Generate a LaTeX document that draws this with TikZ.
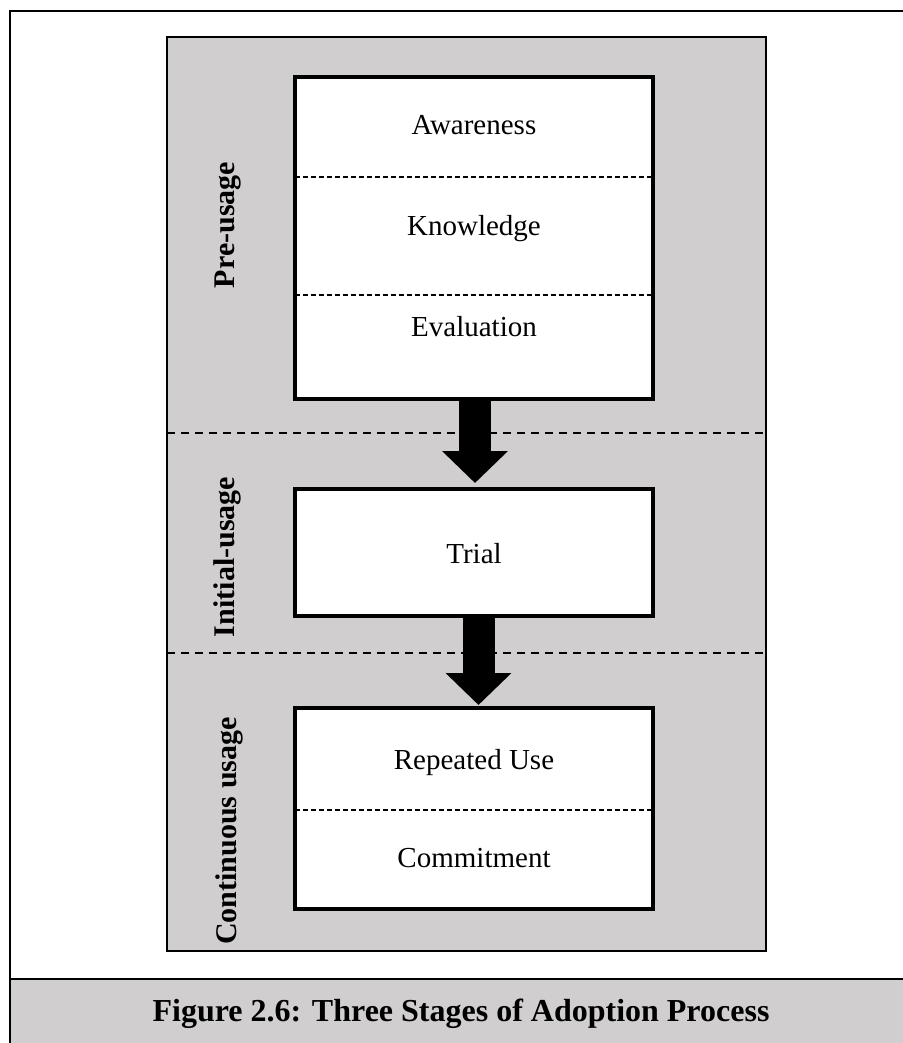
\documentclass[tikz,border=0pt]{standalone}
\usepackage{fontspec}
\setmainfont{Liberation Serif}
\usetikzlibrary{arrows.meta}
\definecolor{panelgray}{RGB}{208,206,207}
\begin{document}
\begin{tikzpicture}[x=1pt,y=-1pt,
  stagebox/.style={draw, line width=4pt, fill=white, minimum width=358pt,
    inner sep=0pt, outer sep=0pt},
  phase/.style={font=\fontsize{29}{34}\selectfont, anchor=base},
  sidelabel/.style={rotate=90, font=\fontsize{30}{36}\selectfont\bfseries},
  divider/.style={dash pattern=on 5pt off 3pt, line width=1.2pt},
  stageline/.style={dash pattern=on 8pt off 6pt, line width=2pt},
  flow/.style={line width=32pt, -{Triangle[length=32pt,width=64pt]}}]
\useasboundingbox (0,0) rectangle (902,1043);

% outer frame and caption band
\draw[line width=2pt] (10,11) rectangle (912,1055);
\fill[panelgray] (11,979) rectangle (912,1055);
\draw[line width=2pt] (10,979) -- (912,979);
\node[font=\fontsize{32}{38}\selectfont\bfseries, anchor=base] (caption)
  at (461,1021) {Figure 2.6: Three Stages of Adoption Process};

% grey panel
\draw[line width=2pt, fill=panelgray] (167,37) rectangle (766,951);

% stage separators
\coordinate (s1l) at (167,433); \coordinate (s1r) at (766,433);
\coordinate (s2l) at (167,653); \coordinate (s2r) at (766,653);
\draw[stageline] (s1l) -- (s1r);
\draw[stageline] (s2l) -- (s2r);

% side labels
\node[sidelabel] (pre) at (228,225) {Pre-usage};
\node[sidelabel] (init) at (227,557) {Initial-usage};
\node[sidelabel] (cont) at (229,831) {Continuous usage};

% stage boxes
\node[stagebox, minimum height=322pt] (b1) at (474,238) {};
\node[stagebox, minimum height=127pt] (b2) at (474,552.5) {};
\node[stagebox, minimum height=201pt] (b3) at (474,808.5) {};

% inner dividers
\draw[divider] (b1.west |- 0,177) -- (b1.east |- 0,177);
\draw[divider] (b1.west |- 0,295) -- (b1.east |- 0,295);
\draw[divider] (b3.west |- 0,810) -- (b3.east |- 0,810);

% box texts
\node[phase] (aw) at (474,135) {Awareness};
\node[phase] (kn) at (474,235) {Knowledge};
\node[phase] (ev) at (474,336) {Evaluation};
\node[phase] (tr) at (474,563) {Trial};
\node[phase] (ru) at (474,769) {Repeated Use};
\node[phase] (cm) at (474,867) {Commitment};

% block arrows between stages
\draw[flow, shorten >=6pt] ([xshift=1pt]b1.south) -- ([xshift=1pt]b2.north);
\draw[flow, shorten >=3pt] ([xshift=4.5pt]b2.south) -- ([xshift=4.5pt]b3.north);
\end{tikzpicture}
\end{document}
